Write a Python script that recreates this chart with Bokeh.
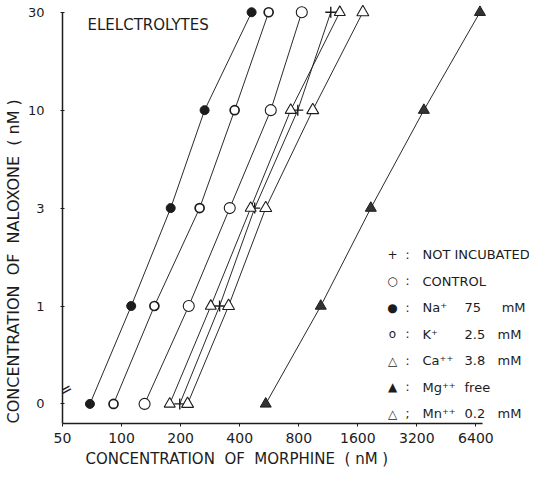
import math
from bokeh.plotting import figure
from bokeh.models import FixedTicker, Label, Range1d, Title
from bokeh.embed import file_html
from bokeh.resources import INLINE

# ---- data ----
naloxone_levels = [0, 1, 3, 10, 30]          # nM, y categories (evenly spaced)
naloxone_labels = ["0", "1", "3", "10", "30"]
x_ticks = [50, 100, 200, 400, 800, 1600, 3200, 6400]

# morphine concentration (nM) needed at each naloxone level
morphine_na = [69, 112, 178, 265, 460]
morphine_k = [91, 147, 250, 377, 562]
morphine_control = [131, 220, 356, 576, 829]
morphine_not_incubated = [198, 316, 477, 791, 1165]
morphine_ca = [176, 285, 455, 728, 1295]
morphine_mn = [217, 351, 543, 943, 1697]
morphine_mg = [543, 1036, 1864, 3474, 6708]

NB = "\u00a0"
legend_symbols = ["+", "\u25cb", "\u25cf", "o", "\u25b3", "\u25b2", "\u25b3"]
legend_seps = [":", ":", ":", ":", ":", ":", ";"]
legend_names = ["NOT INCUBATED", "CONTROL", "Na\u207a", "K\u207a", "Ca\u207a\u207a", "Mg\u207a\u207a", "Mn\u207a\u207a"]
legend_values = ["", "", "75" + NB * 5 + "mM", "2.5" + NB * 3 + "mM", "3.8" + NB * 3 + "mM",
                 "free", "0.2" + NB * 3 + "mM"]

INK = "#1c1c1c"
LINE = "#2a2a2a"

p = figure(width=529, height=471, x_axis_type="log",
           x_range=Range1d(50, 12000), y_range=Range1d(-0.2, 4.12),
           output_backend="svg", toolbar_location=None, title=None,
           min_border_left=62, min_border_right=0, min_border_top=0, min_border_bottom=48)
p.outline_line_color = None
p.xgrid.visible = False
p.ygrid.visible = False
p.background_fill_color = "white"

y_pos = [naloxone_levels.index(n) for n in naloxone_levels]

series = [
    (morphine_na, "circle", 9, INK, 1.0),
    (morphine_k, "circle", 9, "white", 1.7),
    (morphine_control, "circle", 11, "white", 1.1),
    (morphine_not_incubated, "cross", 11, None, 1.4),
    (morphine_ca, "triangle", 11, "white", 1.1),
    (morphine_mn, "triangle", 12, "white", 1.1),
    (morphine_mg, "triangle", 11, "#333333", 1.0),
]
for vals, _, _, _, _ in series:
    p.line(vals, y_pos, line_color=LINE, line_width=1)
for vals, marker, size, fill, lw in series:
    p.scatter(vals, y_pos, marker=marker, size=size, fill_color=fill,
              line_color=INK, line_width=lw)

# axes
xa = p.xaxis[0]
xa.ticker = FixedTicker(ticks=x_ticks)
xa.major_label_overrides = {t: str(t) for t in x_ticks}
xa.minor_tick_line_color = None
xa.major_tick_in = 0
xa.major_tick_out = 3
xa.major_label_standoff = 6
xa.bounds = (50, 6900)
xa.axis_line_width = 1.5
xa.axis_line_color = INK
xa.major_tick_line_color = INK
xa.major_label_text_font = "DejaVu Sans"
xa.major_label_text_font_size = "14px"
xa.major_label_text_color = INK

ya = p.yaxis[0]
ya.ticker = FixedTicker(ticks=y_pos)
ya.major_label_overrides = {i: lab for i, lab in zip(y_pos, naloxone_labels)}
ya.minor_tick_line_color = None
ya.major_tick_in = 2
ya.major_tick_out = 2
ya.major_label_standoff = 16
ya.bounds = (-0.2, 4)
ya.axis_line_width = 1.5
ya.axis_line_color = INK
ya.major_tick_line_color = INK
ya.major_label_text_font = "DejaVu Sans"
ya.major_label_text_font_size = "13px"
ya.major_label_text_color = INK

# axis titles as side-panel titles (so they can sit off-centre like the original)
p.add_layout(Title(text="CONCENTRATION" + NB * 2 + "OF" + NB * 2 + "MORPHINE" + NB * 2 + "(" + NB + "nM" + NB + ")",
                   align="left", offset=23, standoff=4, text_font="DejaVu Sans",
                   text_font_size="15px", text_font_style="normal", text_color=INK), "below")
p.add_layout(Title(text="CONCENTRATION" + NB * 2 + "OF" + NB * 2 + "NALOXONE" + NB * 2 + "(" + NB + "nM" + NB + ")",
                   align="left", offset=0, standoff=3, text_font="DejaVu Sans",
                   text_font_size="16px", text_font_style="normal", text_color=INK), "left")

FL, FB = 70, 431  # frame left / bottom in page pixels


def txt(px, py, text, size, align="left", angle=0.0):
    p.add_layout(Label(x=px - FL, y=FB - py, x_units="screen", y_units="screen",
                       text=text, text_font="DejaVu Sans", text_font_size=size,
                       text_align=align, text_baseline="middle", angle=angle,
                       text_color=INK))


txt(95, 32, "ELELCTROLYTES", "15px")
txt(73, 397, "=", "16px", align="center", angle=0.5)

for i in range(len(legend_names)):
    py = 262 + 26.5 * i
    txt(400, py, legend_symbols[i], "12px", align="center")
    txt(415, py, legend_seps[i], "12px", align="center")
    txt(430, py, legend_names[i], "13px")
    if legend_values[i]:
        txt(472, py, legend_values[i], "13px")

open("out.html", "w").write(file_html(p, INLINE))
